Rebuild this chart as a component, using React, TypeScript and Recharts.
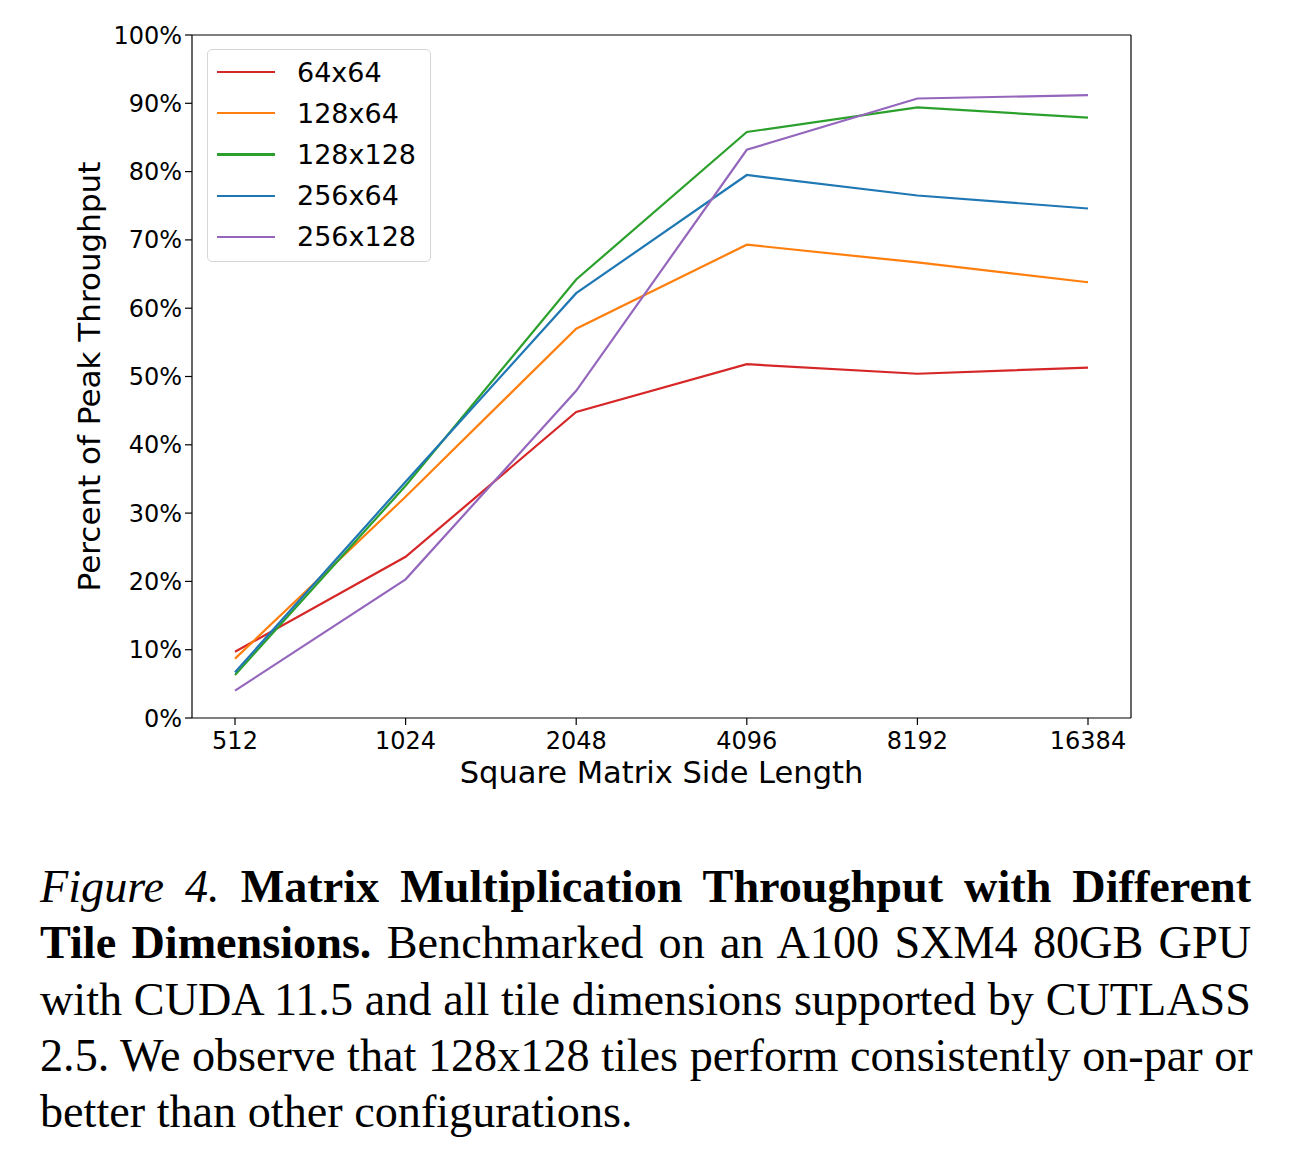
import React from 'react';
import { LineChart, Line, XAxis, YAxis, Legend } from 'recharts';

const sizes = ['512', '1024', '2048', '4096', '8192', '16384'];
const tile64x64 = [9.7, 23.6, 44.8, 51.8, 50.4, 51.3];
const tile128x64 = [8.7, 32.4, 57.0, 69.3, 66.7, 63.8];
const tile128x128 = [6.3, 34.0, 64.2, 85.8, 89.4, 87.9];
const tile256x64 = [6.7, 34.6, 62.2, 79.5, 76.5, 74.6];
const tile256x128 = [4.0, 20.3, 47.9, 83.2, 90.7, 91.2];
const yTicks = [0, 10, 20, 30, 40, 50, 60, 70, 80, 90, 100];

const series = [
  { key: 'a', name: '64x64', color: '#d62728', values: tile64x64 },
  { key: 'b', name: '128x64', color: '#ff7f0e', values: tile128x64 },
  { key: 'c', name: '128x128', color: '#2ca02c', values: tile128x128 },
  { key: 'd', name: '256x64', color: '#1f77b4', values: tile256x64 },
  { key: 'e', name: '256x128', color: '#9467bd', values: tile256x128 },
];

const data = sizes.map((s, i) => {
  const row: any = { size: s };
  series.forEach((se) => {
    row[se.key] = se.values[i];
  });
  return row;
});

const FONT = '"DejaVu Sans", sans-serif';

const LegendBox = () => (
  <div
    style={{
      boxSizing: 'border-box',
      width: 224,
      height: 213,
      border: '1.3px solid #d6d6d6',
      borderRadius: 5,
      background: 'rgba(255,255,255,0.8)',
      paddingTop: 1.5,
      fontFamily: FONT,
    }}
  >
    {series.map((s) => (
      <div key={s.key} style={{ height: 41.2, position: 'relative' }}>
        <div
          style={{
            position: 'absolute',
            left: 9,
            top: 19.5,
            width: 58,
            height: 2.2,
            background: s.color,
          }}
        />
        <div
          style={{
            position: 'absolute',
            left: 89,
            top: 0,
            height: 41.2,
            lineHeight: '41.2px',
            fontSize: 27,
            color: '#000',
          }}
        >
          {s.name}
        </div>
      </div>
    ))}
  </div>
);

const captionLine: React.CSSProperties = {
  textAlign: 'justify',
  textAlignLast: 'justify' as any,
  height: 56.25,
  whiteSpace: 'nowrap',
};

export default function App() {
  return (
    <div style={{ width: 1300 }}>
      <div style={{ position: 'relative', width: 1300, height: 790 }}>
        <LineChart
          width={1300}
          height={790}
          data={data}
          margin={{ top: 26, right: 176, left: 54, bottom: 0 }}
          style={{ fontFamily: FONT }}
        >
          <XAxis
            dataKey="size"
            type="category"
            padding={{ left: 43, right: 43 }}
            height={80}
            tickSize={7}
            tickMargin={7}
            tick={{ fontSize: 24, fill: '#000', fontFamily: FONT }}
            tickLine={{ stroke: '#000', strokeWidth: 1.2 }}
            axisLine={{ stroke: '#000', strokeWidth: 1.2 }}
            label={(props: any) => {
              const vb = props.viewBox || {};
              return (
                <text
                  x={vb.x + vb.width / 2}
                  y={775}
                  textAnchor="middle"
                  fontSize={30.5}
                  fill="#000"
                  fontFamily={FONT}
                >
                  Square Matrix Side Length
                </text>
              );
            }}
          />
          <XAxis
            xAxisId="top"
            dataKey="size"
            type="category"
            orientation="top"
            padding={{ left: 43, right: 43 }}
            height={1}
            tick={false}
            tickLine={false}
            axisLine={{ stroke: '#000', strokeWidth: 1.2 }}
          />
          <YAxis
            type="number"
            domain={[0, 100]}
            ticks={yTicks}
            interval={0}
            width={130}
            tickSize={7}
            tickMargin={3}
            tickFormatter={(v: number) => `${v}%`}
            tick={{ fontSize: 24, fill: '#000', fontFamily: FONT }}
            tickLine={{ stroke: '#000', strokeWidth: 1.2 }}
            axisLine={{ stroke: '#000', strokeWidth: 1.2 }}
            label={(props: any) => {
              const vb = props.viewBox || {};
              const cy = vb.y + vb.height / 2;
              return (
                <text
                  x={92}
                  y={cy}
                  transform={`rotate(-90, 92, ${cy})`}
                  textAnchor="middle"
                  fontSize={31}
                  fill="#000"
                  fontFamily={FONT}
                >
                  Percent of Peak Throughput
                </text>
              );
            }}
          />
          <YAxis
            yAxisId="right"
            orientation="right"
            type="number"
            domain={[0, 100]}
            width={1}
            tick={false}
            tickLine={false}
            axisLine={{ stroke: '#000', strokeWidth: 1.2 }}
          />
          {series.map((s) => (
            <Line
              key={s.key}
              type="linear"
              dataKey={s.key}
              name={s.name}
              stroke={s.color}
              strokeWidth={2.2}
              dot={false}
              activeDot={false}
              isAnimationActive={false}
            />
          ))}
          <Legend
            layout="vertical"
            align="center"
            verticalAlign="middle"
            content={() => <LegendBox />}
            wrapperStyle={{ left: 199, top: 41, width: 224, height: 213 }}
          />
        </LineChart>
      </div>
      <div
        style={{
          marginTop: 61,
          marginLeft: 32,
          width: 1211,
          fontFamily: '"Liberation Serif", "Times New Roman", serif',
          fontSize: 46.2,
          lineHeight: '56.25px',
          color: '#000',
        }}
      >
        <div style={captionLine}>
          <i>Figure 4.</i> <b>Matrix Multiplication Throughput with Different</b>
        </div>
        <div style={captionLine}>
          <b>Tile Dimensions.</b> Benchmarked on an A100 SXM4 80GB GPU
        </div>
        <div style={captionLine}>
          with CUDA 11.5 and all tile dimensions supported by CUTLASS
        </div>
        <div style={captionLine}>
          2.5. We observe that 128x128 tiles perform consistently on-par or
        </div>
        <div style={{ height: 56.25, whiteSpace: 'nowrap' }}>better than other configurations.</div>
      </div>
    </div>
  );
}
